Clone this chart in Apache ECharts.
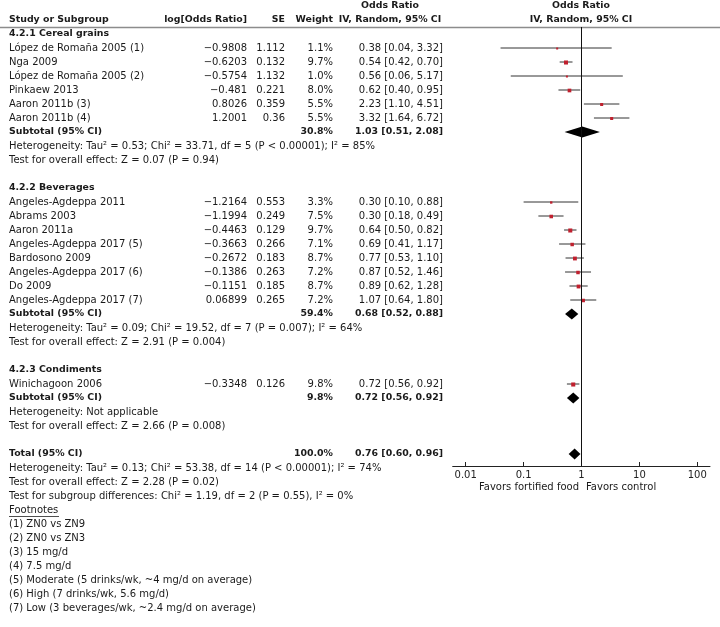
<!DOCTYPE html>
<html><head><meta charset="utf-8">
<script src="https://cdn.jsdelivr.net/npm/echarts@6/dist/echarts.min.js"></script>
<style>html,body{margin:0;padding:0;background:#fff}#c{width:720px;height:627px}</style>
</head><body><div id="c"></div>
<script>
// ---------------- data ----------------
const groupTitles = ['4.2.1 Cereal grains', '4.2.2 Beverages', '4.2.3 Condiments'];

const cerealStudies = ['López de Romaña 2005 (1)', 'Nga 2009', 'López de Romaña 2005 (2)', 'Pinkaew 2013', 'Aaron 2011b (3)', 'Aaron 2011b (4)'];
const cerealLogOR = [-0.9808, -0.6203, -0.5754, -0.481, 0.8026, 1.2001];
const cerealSE = [1.112, 0.132, 1.132, 0.221, 0.359, 0.36];
const cerealWeight = [1.1, 9.7, 1.0, 8.0, 5.5, 5.5];
const cerealOR = [0.38, 0.54, 0.56, 0.62, 2.23, 3.32];
const cerealLow = [0.04, 0.42, 0.06, 0.40, 1.10, 1.64];
const cerealHigh = [3.32, 0.70, 5.17, 0.95, 4.51, 6.72];

const beverageStudies = ['Angeles-Agdeppa 2011', 'Abrams 2003', 'Aaron 2011a', 'Angeles-Agdeppa 2017 (5)', 'Bardosono 2009', 'Angeles-Agdeppa 2017 (6)', 'Do 2009', 'Angeles-Agdeppa 2017 (7)'];
const beverageLogOR = [-1.2164, -1.1994, -0.4463, -0.3663, -0.2672, -0.1386, -0.1151, 0.06899];
const beverageSE = [0.553, 0.249, 0.129, 0.266, 0.183, 0.263, 0.185, 0.265];
const beverageWeight = [3.3, 7.5, 9.7, 7.1, 8.7, 7.2, 8.7, 7.2];
const beverageOR = [0.30, 0.30, 0.64, 0.69, 0.77, 0.87, 0.89, 1.07];
const beverageLow = [0.10, 0.18, 0.50, 0.41, 0.53, 0.52, 0.62, 0.64];
const beverageHigh = [0.88, 0.49, 0.82, 1.17, 1.10, 1.46, 1.28, 1.80];

const condimentStudies = ['Winichagoon 2006'];
const condimentLogOR = [-0.3348];
const condimentSE = [0.126];
const condimentWeight = [9.8];
const condimentOR = [0.72];
const condimentLow = [0.56];
const condimentHigh = [0.92];

const subtotalWeight = [30.8, 59.4, 9.8];
const subtotalOR = [1.03, 0.68, 0.72];
const subtotalLow = [0.51, 0.52, 0.56];
const subtotalHigh = [2.08, 0.88, 0.92];
const subtotalHeterogeneity = [
  'Heterogeneity: Tau² = 0.53; Chi² = 33.71, df = 5 (P < 0.00001); I² = 85%',
  'Heterogeneity: Tau² = 0.09; Chi² = 19.52, df = 7 (P = 0.007); I² = 64%',
  'Heterogeneity: Not applicable'
];
const subtotalEffect = [
  'Test for overall effect: Z = 0.07 (P = 0.94)',
  'Test for overall effect: Z = 2.91 (P = 0.004)',
  'Test for overall effect: Z = 2.66 (P = 0.008)'
];

const totalWeight = 100.0;
const totalOR = 0.76;
const totalLow = 0.60;
const totalHigh = 0.96;
const totalNotes = [
  'Heterogeneity: Tau² = 0.13; Chi² = 53.38, df = 14 (P < 0.00001); I² = 74%',
  'Test for overall effect: Z = 2.28 (P = 0.02)',
  'Test for subgroup differences: Chi² = 1.19, df = 2 (P = 0.55), I² = 0%'
];
const footnotes = ['(1) ZN0 vs ZN9', '(2) ZN0 vs ZN3', '(3) 15 mg/d', '(4) 7.5 mg/d',
  '(5) Moderate (5 drinks/wk, ~4 mg/d on average)', '(6) High (7 drinks/wk, 5.6 mg/d)',
  '(7) Low (3 beverages/wk, ~2.4 mg/d on average)'];

const tickValues = [0.01, 0.1, 1, 10, 100];
const tickLabels = ['0.01', '0.1', '1', '10', '100'];
const favorLabels = ['Favors fortified food', 'Favors control'];

// ---------------- layout ----------------
const FONT = 'DejaVu Sans';
const FS = 10, FSB = 9.4;
const COL = { name: 9, log: 247, se: 285, w: 333, or: 443, orHead: 390, plotHead: 581, favL: 579, favR: 586 };
const ROW0 = 34, ROWH = 14;

const groups = [
  [cerealStudies, cerealLogOR, cerealSE, cerealWeight, cerealOR, cerealLow, cerealHigh],
  [beverageStudies, beverageLogOR, beverageSE, beverageWeight, beverageOR, beverageLow, beverageHigh],
  [condimentStudies, condimentLogOR, condimentSE, condimentWeight, condimentOR, condimentLow, condimentHigh]
];

const fmtNum = v => String(v).replace('-', '−');
const fmtCI = (o, l, h) => o.toFixed(2) + ' [' + l.toFixed(2) + ', ' + h.toFixed(2) + ']';

const items = [];   // text items
const marks = [];   // [logOR, logLow, logHigh, row, weight, kind]
const T = (row, col, text, align, bold) => items.push({ row, col, text, align: align || 'left', bold: !!bold });

T(-2, 'orHead', 'Odds Ratio', 'center', true);
T(-2, 'plotHead', 'Odds Ratio', 'center', true);
T(-1, 'name', 'Study or Subgroup', 'left', true);
T(-1, 'log', 'log[Odds Ratio]', 'right', true);
T(-1, 'se', 'SE', 'right', true);
T(-1, 'w', 'Weight', 'right', true);
T(-1, 'orHead', 'IV, Random, 95% CI', 'center', true);
T(-1, 'plotHead', 'IV, Random, 95% CI', 'center', true);

let r = 0;
groups.forEach((g, gi) => {
  const [st, lo, se, w, or, l, h] = g;
  T(r, 'name', groupTitles[gi], 'left', true); r++;
  st.forEach((s, i) => {
    T(r, 'name', s);
    T(r, 'log', fmtNum(lo[i]), 'right');
    T(r, 'se', String(se[i]), 'right');
    T(r, 'w', w[i].toFixed(1) + '%', 'right');
    T(r, 'or', fmtCI(or[i], l[i], h[i]), 'right');
    marks.push([Math.log10(or[i]), Math.log10(l[i]), Math.log10(h[i]), r, w[i], 0]);
    r++;
  });
  T(r, 'name', 'Subtotal (95% CI)', 'left', true);
  T(r, 'w', subtotalWeight[gi].toFixed(1) + '%', 'right', true);
  T(r, 'or', fmtCI(subtotalOR[gi], subtotalLow[gi], subtotalHigh[gi]), 'right', true);
  marks.push([Math.log10(subtotalOR[gi]), Math.log10(subtotalLow[gi]), Math.log10(subtotalHigh[gi]), r, subtotalWeight[gi], 1]);
  r++;
  T(r, 'name', subtotalHeterogeneity[gi]); r++;
  T(r, 'name', subtotalEffect[gi]); r++;
  r++;
});
T(r, 'name', 'Total (95% CI)', 'left', true);
T(r, 'w', totalWeight.toFixed(1) + '%', 'right', true);
T(r, 'or', fmtCI(totalOR, totalLow, totalHigh), 'right', true);
marks.push([Math.log10(totalOR), Math.log10(totalLow), Math.log10(totalHigh), r, totalWeight, 1]);
r++;
totalNotes.forEach(t => { T(r, 'name', t); r++; });
const footRow = r;
T(r, 'name', 'Footnotes'); r++;
footnotes.forEach(t => { T(r, 'name', t); r++; });
const favRow = (487 - ROW0) / ROWH;
T(favRow, 'favL', favorLabels[0], 'right');
T(favRow, 'favR', favorLabels[1], 'left');

// ---------------- chart ----------------
const chart = echarts.init(document.getElementById('c'), null, { renderer: 'canvas' });
const plotLeft = 452.7, plotRight = 710, decade = (697.3 - 465.7) / 4;
const xMin = -2 - (465.7 - plotLeft) / decade, xMax = 2 + (plotRight - 697.3) / decade;
const axisY = 466;
const logTicks = tickValues.map(v => Math.log10(v));

chart.setOption({
  animation: false,
  grid: [
    { left: plotLeft, top: 27, width: plotRight - plotLeft, height: axisY - 27 },
    { left: 0, top: 0, width: 720, height: 627 }
  ],
  xAxis: [
    {
      gridIndex: 0, type: 'value', min: xMin, max: xMax, position: 'bottom',
      axisLine: { show: true, onZero: false, lineStyle: { color: '#222', width: 1 } },
      axisTick: { show: true, inside: true, length: 4, customValues: logTicks, lineStyle: { color: '#222' } },
      axisLabel: {
        show: true, customValues: logTicks, margin: 4, color: '#222', fontFamily: FONT, fontSize: FS,
        formatter: v => { let bi = 0; logTicks.forEach((t, i) => { if (Math.abs(t - v) < Math.abs(logTicks[bi] - v)) bi = i; }); return tickLabels[bi]; }
      },
      splitLine: { show: false }
    },
    { gridIndex: 1, type: 'value', min: 0, max: 720, show: false }
  ],
  yAxis: [
    { gridIndex: 0, type: 'value', inverse: true, min: -0.5, max: (axisY - ROW0) / ROWH, show: false },
    { gridIndex: 1, type: 'value', inverse: true, min: -ROW0 / ROWH, max: (627 - ROW0) / ROWH, show: false }
  ],
  graphic: [
    { type: 'line', shape: { x1: 0, y1: 27.5, x2: 720, y2: 27.5 }, style: { stroke: '#8c8c8c', lineWidth: 1.5 } },
    { type: 'line', shape: { x1: 9, y1: ROW0 + footRow * ROWH + 6.5, x2: 59, y2: ROW0 + footRow * ROWH + 6.5 }, style: { stroke: '#222', lineWidth: 0.8 } }
  ],
  series: [
    {
      type: 'custom', xAxisIndex: 1, yAxisIndex: 1, silent: true,
      data: items.map(it => [COL[it.col], it.row]),
      renderItem: (params, api) => {
        const it = items[params.dataIndex];
        const p = api.coord([api.value(0), api.value(1)]);
        return {
          type: 'text', x: p[0], y: p[1],
          style: {
            text: it.text, fill: '#1a1a1a', textAlign: it.align, textVerticalAlign: 'middle',
            font: (it.bold ? 'bold ' + FSB : FS) + 'px "' + FONT + '"'
          }
        };
      }
    },
    {
      type: 'custom', xAxisIndex: 0, yAxisIndex: 0, silent: true,
      encode: { x: [0, 1, 2], y: 3 },
      data: marks,
      renderItem: (params, api) => {
        const row = api.value(3), kind = api.value(5), w = api.value(4);
        const c = api.coord([api.value(0), row]);
        const l = api.coord([api.value(1), row]);
        const h = api.coord([api.value(2), row]);
        if (kind === 1) {
          const hh = 5.5;
          return {
            type: 'polygon',
            shape: { points: [[l[0], c[1]], [c[0], c[1] - hh], [h[0], c[1]], [c[0], c[1] + hh]] },
            style: { fill: '#000' }
          };
        }
        const s = Math.max(2, 1.3 * Math.sqrt(w));
        return {
          type: 'group', children: [
            { type: 'line', shape: { x1: l[0], y1: c[1], x2: h[0], y2: c[1] }, style: { stroke: '#333', lineWidth: 1 } },
            { type: 'rect', shape: { x: c[0] - s / 2, y: c[1] - s / 2 + 0.5, width: s, height: s }, style: { fill: '#c0202e' } }
          ]
        };
      },
      markLine: {
        silent: true, symbol: 'none', label: { show: false },
        lineStyle: { color: '#111', width: 1, type: 'solid' },
        data: [{ xAxis: 0 }]
      }
    }
  ]
});
</script></body></html>
